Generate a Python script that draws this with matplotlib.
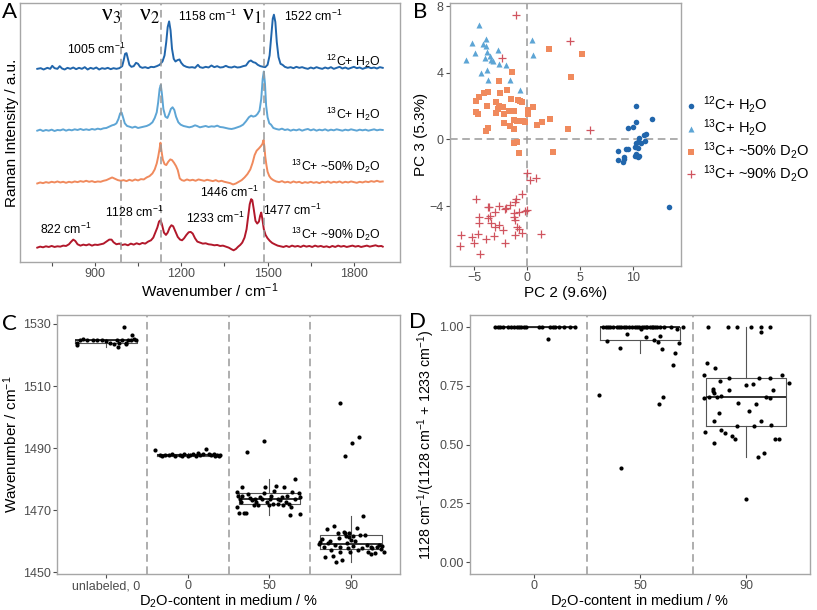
import numpy as np
import matplotlib
matplotlib.use("Agg")
import matplotlib.pyplot as plt

plt.rcParams["font.family"] = ["Liberation Sans", "DejaVu Sans"]
plt.rcParams["mathtext.fontset"] = "custom"
plt.rcParams["mathtext.rm"] = "Liberation Sans"
plt.rcParams["mathtext.it"] = "Liberation Sans:italic"
plt.rcParams["mathtext.bf"] = "Liberation Sans:bold"

# ---------------------------------------------------------------
# DATA
# ---------------------------------------------------------------
group_labels = [r"$^{12}$C+ H$_2$O", r"$^{13}$C+ H$_2$O",
                r"$^{13}$C+ ~50% D$_2$O", r"$^{13}$C+ ~90% D$_2$O"]
group_colors = ["#2166AC", "#5DA5D5", "#F08A5D", "#B2182B"]

# Panel A: spectra (wavenumber, intensity)
spec_12c_h2o = [
    (700, 0.00), (712, 0.02), (722, -0.02), (735, 0.03), (745, 0.00), (752, 0.09), (760, 0.02),
    (770, 0.00), (778, 0.08), (786, 0.01), (795, -0.02), (805, 0.03), (815, 0.00), (825, 0.04),
    (835, -0.01), (845, 0.03), (855, 0.00), (865, 0.05), (875, -0.02), (885, 0.03), (895, 0.00),
    (905, 0.04), (915, -0.02), (925, 0.02), (935, 0.00), (945, 0.03), (955, -0.01), (965, 0.02),
    (975, 0.00), (985, 0.02), (995, 0.08), (1000, 0.25), (1005, 0.45), (1010, 0.47), (1015, 0.30),
    (1020, 0.12), (1027, 0.06), (1035, 0.08), (1043, 0.18), (1050, 0.15), (1057, 0.06), (1065, 0.03),
    (1075, 0.05), (1085, 0.02), (1095, 0.06), (1105, 0.05), (1115, 0.08), (1125, 0.12), (1135, 0.22),
    (1142, 0.40), (1148, 0.80), (1153, 1.25), (1158, 1.42), (1163, 1.15), (1168, 0.60), (1174, 0.30),
    (1180, 0.22), (1187, 0.26), (1194, 0.28), (1200, 0.18), (1208, 0.10), (1218, 0.06), (1228, 0.04),
    (1238, 0.05), (1248, 0.03), (1258, 0.12), (1265, 0.05), (1275, 0.03), (1285, 0.06), (1295, 0.04),
    (1305, 0.10), (1315, 0.05), (1325, 0.08), (1335, 0.04), (1345, 0.05), (1355, 0.09), (1365, 0.05),
    (1375, 0.04), (1385, 0.07), (1395, 0.04), (1405, 0.05), (1415, 0.08), (1425, 0.10), (1435, 0.22),
    (1442, 0.25), (1450, 0.20), (1458, 0.18), (1466, 0.12), (1475, 0.08), (1485, 0.06), (1492, 0.05),
    (1500, 0.12), (1507, 0.40), (1513, 1.00), (1518, 1.50), (1522, 1.62), (1527, 1.40), (1532, 0.80),
    (1538, 0.35), (1545, 0.15), (1552, 0.12), (1560, 0.06), (1570, 0.03), (1580, 0.05), (1590, 0.02),
    (1600, 0.06), (1610, 0.03), (1620, 0.05), (1630, 0.02), (1640, 0.00), (1650, 0.04), (1660, 0.01),
    (1670, 0.05), (1680, 0.02), (1690, 0.00), (1700, 0.04), (1710, 0.01), (1720, 0.05), (1730, 0.00),
    (1740, 0.03), (1750, 0.06), (1760, 0.01), (1770, 0.04), (1780, 0.00), (1790, 0.03), (1800, 0.06),
    (1810, 0.02), (1820, 0.04), (1830, 0.00), (1840, 0.03), (1850, 0.05), (1860, 0.02), (1870, 0.04),
    (1880, 0.01), (1890, 0.05), (1900, 0.03)]

spec_13c_h2o = [
    (700, 0.00), (710, 0.03), (720, -0.01), (730, 0.02), (740, 0.00), (750, 0.03), (760, -0.01),
    (770, 0.02), (780, 0.01), (790, 0.04), (800, 0.00), (810, 0.03), (820, 0.01), (830, 0.04),
    (840, 0.02), (850, 0.05), (860, 0.02), (870, 0.04), (880, 0.02), (890, 0.05), (900, 0.03),
    (910, 0.06), (920, 0.04), (930, 0.07), (940, 0.08), (950, 0.12), (960, 0.16), (968, 0.18),
    (975, 0.22), (982, 0.35), (988, 0.52), (993, 0.54), (998, 0.40), (1004, 0.22), (1012, 0.14),
    (1020, 0.12), (1030, 0.09), (1040, 0.12), (1050, 0.08), (1060, 0.10), (1070, 0.12), (1080, 0.14),
    (1090, 0.18), (1100, 0.25), (1108, 0.38), (1115, 0.55), (1120, 0.85), (1125, 1.25), (1129, 1.37),
    (1133, 1.10), (1138, 0.65), (1145, 0.42), (1152, 0.38), (1158, 0.50), (1164, 0.65), (1170, 0.70),
    (1176, 0.62), (1182, 0.42), (1190, 0.25), (1198, 0.18), (1208, 0.14), (1218, 0.12), (1228, 0.10),
    (1238, 0.12), (1248, 0.16), (1255, 0.14), (1265, 0.10), (1275, 0.12), (1285, 0.14), (1295, 0.11),
    (1305, 0.13), (1315, 0.12), (1325, 0.15), (1335, 0.11), (1345, 0.10), (1355, 0.08), (1365, 0.06),
    (1375, 0.05), (1385, 0.07), (1395, 0.10), (1405, 0.13), (1415, 0.18), (1425, 0.28), (1435, 0.40),
    (1443, 0.45), (1450, 0.42), (1458, 0.44), (1465, 0.50), (1472, 0.60), (1478, 0.95), (1483, 1.55),
    (1487, 1.77), (1491, 1.40), (1495, 0.75), (1500, 0.40), (1506, 0.22), (1512, 0.18), (1520, 0.08),
    (1530, 0.05), (1540, 0.03), (1550, 0.06), (1560, 0.02), (1570, 0.04), (1580, 0.00), (1590, 0.03),
    (1600, 0.01), (1610, 0.04), (1620, 0.00), (1630, 0.03), (1640, 0.05), (1650, 0.01), (1660, 0.04),
    (1670, 0.00), (1680, 0.03), (1690, 0.01), (1700, 0.04), (1710, 0.00), (1720, 0.03), (1730, 0.01),
    (1740, 0.04), (1750, 0.02), (1760, 0.00), (1770, 0.03), (1780, 0.01), (1790, 0.04), (1800, 0.02),
    (1810, 0.00), (1820, 0.03), (1830, 0.01), (1840, 0.03), (1850, 0.00), (1860, 0.02), (1870, 0.04),
    (1880, 0.01), (1890, 0.03), (1900, 0.02)]

spec_13c_d2o50 = [
    (700, 0.00), (710, 0.03), (720, 0.01), (730, 0.04), (740, 0.02), (750, 0.05), (760, 0.03),
    (770, 0.06), (780, 0.03), (790, 0.05), (800, 0.02), (810, 0.05), (820, 0.03), (830, 0.06),
    (840, 0.04), (850, 0.07), (860, 0.05), (870, 0.08), (880, 0.05), (890, 0.07), (900, 0.04),
    (910, 0.06), (920, 0.05), (930, 0.08), (940, 0.10), (950, 0.14), (960, 0.18), (970, 0.14),
    (980, 0.10), (990, 0.08), (1000, 0.10), (1010, 0.07), (1020, 0.11), (1030, 0.08), (1040, 0.12),
    (1050, 0.09), (1060, 0.13), (1070, 0.12), (1080, 0.18), (1090, 0.22), (1100, 0.30), (1108, 0.42),
    (1115, 0.60), (1120, 0.80), (1125, 1.05), (1128, 1.22), (1131, 1.00), (1136, 0.72), (1142, 0.58),
    (1148, 0.55), (1155, 0.65), (1162, 0.72), (1168, 0.70), (1175, 0.62), (1182, 0.52), (1188, 0.40),
    (1195, 0.15), (1202, 0.10), (1210, 0.08), (1220, 0.12), (1230, 0.09), (1240, 0.11), (1250, 0.08),
    (1260, 0.12), (1270, 0.10), (1280, 0.08), (1290, 0.11), (1300, 0.09), (1310, 0.07), (1320, 0.10),
    (1330, 0.06), (1340, 0.08), (1350, 0.05), (1360, 0.03), (1370, 0.01), (1380, -0.03), (1390, 0.00),
    (1400, 0.05), (1410, 0.10), (1420, 0.18), (1430, 0.28), (1440, 0.42), (1448, 0.62), (1455, 0.85),
    (1462, 0.98), (1470, 1.05), (1477, 1.12), (1482, 1.18), (1486, 1.30), (1489, 1.10), (1492, 0.80),
    (1496, 0.55), (1500, 0.35), (1506, 0.22), (1512, 0.15), (1520, 0.10), (1530, 0.06), (1540, 0.04),
    (1550, 0.07), (1560, 0.03), (1570, 0.05), (1580, 0.02), (1590, 0.06), (1600, 0.03), (1610, 0.05),
    (1620, 0.01), (1630, 0.04), (1640, 0.02), (1650, 0.05), (1660, 0.02), (1670, 0.04), (1680, 0.01),
    (1690, 0.05), (1700, 0.03), (1710, 0.06), (1720, 0.02), (1730, 0.05), (1740, 0.03), (1750, 0.06),
    (1760, 0.02), (1770, 0.05), (1780, 0.03), (1790, 0.06), (1800, 0.04), (1810, 0.02), (1820, 0.05),
    (1830, 0.03), (1840, 0.06), (1850, 0.04), (1860, 0.07), (1870, 0.05), (1880, 0.08), (1890, 0.05),
    (1900, 0.06)]

spec_13c_d2o90 = [
    (700, 0.00), (710, 0.03), (720, 0.01), (730, 0.04), (740, 0.02), (750, 0.05), (760, 0.02),
    (770, 0.04), (780, 0.03), (790, 0.06), (800, 0.05), (810, 0.10), (818, 0.18), (825, 0.24),
    (832, 0.20), (840, 0.10), (850, 0.06), (860, 0.09), (870, 0.07), (880, 0.10), (890, 0.06),
    (900, 0.09), (910, 0.08), (920, 0.10), (930, 0.12), (940, 0.18), (950, 0.24), (958, 0.24),
    (965, 0.16), (975, 0.10), (985, 0.12), (995, 0.08), (1005, 0.10), (1015, 0.07), (1025, 0.12),
    (1035, 0.09), (1045, 0.13), (1055, 0.10), (1065, 0.14), (1075, 0.12), (1085, 0.18), (1095, 0.22),
    (1103, 0.30), (1110, 0.45), (1117, 0.60), (1123, 0.78), (1128, 0.82), (1133, 0.70), (1140, 0.45),
    (1147, 0.38), (1153, 0.45), (1160, 0.60), (1166, 0.67), (1172, 0.64), (1180, 0.48), (1188, 0.32),
    (1196, 0.24), (1203, 0.22), (1210, 0.28), (1218, 0.38), (1226, 0.46), (1233, 0.47), (1240, 0.42),
    (1248, 0.28), (1256, 0.18), (1265, 0.15), (1275, 0.12), (1285, 0.13), (1295, 0.10), (1305, 0.09),
    (1315, 0.07), (1325, 0.08), (1335, 0.05), (1345, 0.06), (1355, 0.03), (1365, 0.00), (1375, -0.05),
    (1382, -0.08), (1390, -0.04), (1398, 0.03), (1405, 0.08), (1412, 0.15), (1420, 0.30), (1427, 0.55),
    (1433, 0.95), (1438, 1.30), (1443, 1.45), (1447, 1.42), (1452, 1.15), (1458, 0.80), (1464, 0.72),
    (1470, 0.78), (1474, 0.95), (1478, 1.05), (1482, 0.85), (1487, 0.55), (1493, 0.38), (1500, 0.28),
    (1508, 0.20), (1516, 0.14), (1525, 0.10), (1535, 0.06), (1545, 0.04), (1555, 0.02), (1565, 0.05),
    (1575, 0.02), (1585, 0.06), (1595, 0.03), (1605, 0.05), (1615, 0.02), (1625, 0.06), (1635, 0.03),
    (1645, 0.05), (1655, 0.02), (1665, 0.06), (1675, 0.03), (1685, 0.05), (1695, 0.02), (1705, 0.04),
    (1715, 0.01), (1725, 0.05), (1735, 0.02), (1745, 0.06), (1755, 0.03), (1765, 0.05), (1775, 0.02),
    (1785, 0.04), (1795, 0.06), (1805, 0.03), (1815, 0.05), (1825, 0.02), (1835, 0.04), (1845, 0.06),
    (1855, 0.03), (1865, 0.05), (1875, 0.07), (1885, 0.04), (1895, 0.05), (1900, 0.03)]

spectra = [spec_12c_h2o, spec_13c_h2o, spec_13c_d2o50, spec_13c_d2o90]
spec_offsets = [5.35, 3.5, 1.92, 0.0]
band_positions = [990, 1130, 1486]
band_names = ["3", "2", "1"]

# Panel B: PCA scores (PC2, PC3)
pc_12c_h2o = [(10.25, 2.0), (11.8, 1.26), (10.25, 1.04), (9.53, 0.7), (10.0, 0.76), (11.2, 0.36),
              (10.97, 0.26), (10.56, 0.06), (10.25, -0.24), (10.4, -0.14), (10.7, -0.2), (11.1, -0.1),
              (8.6, -0.68), (9.3, -0.6), (9.53, -0.56), (10.2, -0.44), (10.4, -0.54), (9.1, -1.04),
              (8.6, -1.24), (9.0, -1.34), (9.1, -1.2), (10.25, -0.9), (10.4, -1.04), (10.5, -0.98),
              (10.2, -1.0), (13.4, -4.08)]
pc_13c_h2o = [(-4.6, 6.9), (-5.2, 5.82), (-3.9, 6.06), (-4.15, 5.76), (-3.9, 5.62), (-4.9, 5.2),
              (-2.8, 5.36), (-3.8, 5.26), (-5.75, 4.8), (-3.97, 4.92), (-3.5, 5.0), (-3.4, 4.8),
              (-3.25, 4.7), (-2.7, 4.56), (-2.0, 4.46), (-4.35, 4.0), (-3.8, 4.16), (-3.7, 3.56),
              (-1.6, 3.56), (-0.7, 2.96), (0.4, 5.96), (0.5, 5.06)]
pc_13c_d2o50 = [(2.06, 5.42), (5.15, 5.12), (4.16, 3.76), (-1.47, 4.06), (-2.72, 3.5), (-3.75, 2.86),
                (-4.1, 2.8), (-4.6, 2.56), (-4.8, 2.32), (-2.56, 2.8), (-1.9, 2.96), (-1.53, 2.42),
                (-0.9, 2.36), (-0.47, 2.26), (-0.7, 2.3), (0.56, 1.96), (-3.8, 2.0), (-3.0, 2.24),
                (-2.72, 2.0), (-2.3, 1.96), (-4.8, 1.66), (-4.66, 1.52), (-2.97, 1.6), (-2.8, 1.86),
                (-2.25, 1.56), (-1.72, 1.7), (-1.3, 1.7), (0.03, 1.76), (0.1, 1.56), (-2.25, 1.02),
                (-1.3, 1.16), (-1.0, 1.1), (-0.4, 1.12), (-0.2, 1.04), (-3.7, 0.72), (-3.9, 0.52),
                (-1.6, 0.82), (-1.25, 0.66), (0.88, 0.88), (1.34, 1.04), (2.1, 1.26), (3.85, 0.66),
                (-1.25, -0.24), (-1.0, -0.14), (-0.75, -0.8), (2.38, -0.78)]
pc_13c_d2o90 = [(-1.06, 7.5), (4.06, 5.92), (-2.4, 4.92), (5.88, 0.6), (-0.06, -2.0), (0.25, -2.44),
                (0.8, -2.34), (-0.47, -3.28), (-1.06, -3.58), (-1.16, -3.74), (-1.6, -3.94), (0.0, -4.24),
                (-0.22, -4.3), (-0.75, -4.38), (-1.3, -4.44), (-4.84, -3.58), (-3.72, -4.08), (-3.6, -4.08),
                (-2.72, -3.98), (-2.1, -4.18), (-2.0, -4.14), (-3.03, -4.38), (-3.5, -4.6), (-3.72, -4.74),
                (-4.6, -4.64), (-4.6, -5.0), (-3.4, -5.0), (-3.03, -5.24), (-2.3, -5.44), (-2.72, -5.14),
                (-1.3, -4.64), (-1.2, -4.84), (-0.94, -5.24), (-0.78, -5.4), (-0.47, -5.64), (-1.16, -5.74),
                (-6.3, -5.74), (-6.4, -6.38), (-5.2, -5.88), (-5.0, -6.2), (-4.7, -5.68), (-3.9, -5.98),
                (-3.12, -5.8), (-2.1, -6.24), (-4.5, -6.9), (1.25, -5.7)]
pc_sets = [pc_12c_h2o, pc_13c_h2o, pc_13c_d2o50, pc_13c_d2o90]
pc_markers = ["o", "^", "s", "+"]

# Panel C: nu1 band position per cell (jitter offset, wavenumber)
c_categories = ["unlabeled, 0", "0", "50", "90"]
c_unlabeled = [(-0.36, 1523.1), (-0.35, 1524.0), (-0.32, 1524.9), (-0.28, 1525.1), (-0.23, 1524.7),
               (-0.16, 1524.8), (-0.11, 1525.0), (-0.05, 1524.7), (0.0, 1524.4), (0.05, 1524.0),
               (0.10, 1523.7), (0.13, 1524.7), (0.15, 1522.7), (0.16, 1524.0), (0.19, 1524.9),
               (0.22, 1529.1), (0.24, 1523.8), (0.27, 1524.9), (0.30, 1524.7), (0.32, 1526.5),
               (0.34, 1525.1), (0.37, 1524.7), (0.25, 1523.5)]
c_d2o0 = [(-0.40, 1489.5), (-0.34, 1487.9), (-0.32, 1487.3), (-0.28, 1487.9), (-0.23, 1487.8),
          (-0.19, 1488.0), (-0.15, 1487.5), (-0.10, 1487.9), (-0.07, 1487.6), (-0.04, 1488.0),
          (0.0, 1487.4), (0.03, 1487.8), (0.06, 1488.1), (0.10, 1487.6), (0.13, 1488.4),
          (0.15, 1487.9), (0.19, 1488.1), (0.22, 1489.7), (0.26, 1488.0), (0.29, 1487.8),
          (0.32, 1488.1), (0.34, 1487.5), (0.36, 1487.8), (0.38, 1487.3), (0.40, 1487.9)]
c_d2o50 = [(-0.40, 1471.0), (-0.39, 1475.8), (-0.38, 1474.4), (-0.36, 1473.7), (-0.35, 1472.6),
           (-0.34, 1474.7), (-0.33, 1477.4), (-0.37, 1469.1), (-0.31, 1469.1), (-0.28, 1469.1),
           (-0.27, 1488.8), (-0.26, 1475.3), (-0.24, 1473.9), (-0.21, 1473.1), (-0.19, 1471.5),
           (-0.18, 1473.7), (-0.16, 1472.6), (-0.14, 1471.5), (-0.12, 1474.2), (-0.09, 1473.7),
           (-0.07, 1492.3), (-0.06, 1475.5), (-0.05, 1477.4), (-0.03, 1472.6), (-0.01, 1471.5),
           (0.01, 1473.7), (0.02, 1474.5), (0.04, 1472.1), (0.06, 1476.3), (0.08, 1477.7),
           (0.10, 1473.7), (0.11, 1472.1), (0.13, 1473.1), (0.15, 1474.2), (0.17, 1471.5),
           (0.18, 1477.4), (0.20, 1472.6), (0.22, 1474.7), (0.24, 1472.1), (0.25, 1468.3),
           (0.26, 1471.0), (0.28, 1475.8), (0.31, 1480.1), (0.32, 1473.7), (0.36, 1475.5),
           (0.37, 1474.2), (0.38, 1468.6)]
c_d2o90 = [(-0.39, 1459.0), (-0.38, 1459.8), (-0.36, 1460.7), (-0.33, 1458.2), (-0.32, 1455.0),
           (-0.30, 1463.8), (-0.28, 1459.5), (-0.26, 1460.0), (-0.24, 1457.1), (-0.22, 1455.3),
           (-0.21, 1464.8), (-0.19, 1458.7), (-0.18, 1453.2), (-0.16, 1462.5), (-0.15, 1460.9),
           (-0.14, 1456.6), (-0.13, 1458.2), (-0.11, 1454.0), (-0.13, 1504.5), (-0.09, 1463.0),
           (-0.07, 1462.5), (-0.06, 1461.7), (-0.05, 1459.3), (-0.04, 1457.9), (-0.03, 1461.4),
           (-0.02, 1462.7), (-0.01, 1456.6), (0.00, 1460.3), (0.02, 1458.5), (0.03, 1461.7),
           (0.05, 1460.0), (0.07, 1464.1), (0.09, 1457.1), (0.11, 1461.9), (0.13, 1457.7),
           (0.15, 1468.1), (0.17, 1461.9), (0.19, 1458.7), (0.21, 1456.4), (0.24, 1458.2),
           (0.25, 1455.8), (0.26, 1457.7), (0.29, 1456.1), (0.32, 1458.2), (0.34, 1458.7),
           (0.37, 1457.5), (0.38, 1458.5), (0.40, 1456.6), (0.10, 1493.5), (0.01, 1491.5),
           (-0.07, 1487.3)]
c_groups = [c_unlabeled, c_d2o0, c_d2o50, c_d2o90]

# Panel D: band ratio per cell (jitter offset, ratio)
d_categories = ["0", "50", "90"]
d_d2o0 = [(-0.36, 1.0), (-0.34, 1.0), (-0.32, 1.0), (-0.29, 1.0), (-0.24, 1.0), (-0.21, 1.0),
          (-0.19, 1.0), (-0.16, 1.0), (-0.14, 1.0), (-0.12, 1.0), (-0.09, 1.0), (-0.07, 1.0),
          (0.05, 1.0), (0.08, 1.0), (0.15, 1.0), (0.18, 1.0), (0.20, 1.0), (0.24, 1.0),
          (0.28, 1.0), (0.34, 1.0), (0.39, 1.0), (0.13, 0.948)]
d_d2o50 = [(-0.35, 1.0), (-0.32, 1.0), (-0.30, 1.0), (-0.28, 1.0), (-0.25, 1.0), (-0.22, 1.0),
           (-0.20, 1.0), (-0.18, 1.0), (-0.15, 1.0), (-0.13, 1.0), (-0.10, 1.0), (-0.08, 1.0),
           (-0.05, 1.0), (-0.03, 1.0), (-0.01, 1.0), (0.02, 1.0), (0.04, 1.0), (0.06, 1.0),
           (0.09, 1.0), (0.12, 1.0), (0.14, 1.0), (0.16, 1.0), (0.19, 1.0), (0.23, 1.0),
           (0.29, 1.0), (0.40, 1.0), (0.07, 1.0), (0.11, 1.0),
           (-0.31, 0.941), (-0.12, 0.969), (-0.19, 0.909), (0.01, 0.989), (0.06, 0.955),
           (0.13, 0.944), (0.17, 0.934), (0.19, 0.961), (0.21, 0.906), (0.33, 0.890),
           (0.31, 0.836), (0.35, 0.989), (0.37, 0.933), (-0.39, 0.711), (-0.18, 0.402),
           (0.18, 0.670), (0.22, 0.701)]
d_d2o90 = [(-0.36, 1.0), (-0.17, 1.0), (-0.09, 1.0), (0.04, 1.0), (0.14, 1.0), (0.22, 1.0),
           (0.14, 0.979), (-0.37, 0.848), (-0.29, 0.824), (-0.40, 0.796), (-0.40, 0.697),
           (-0.35, 0.702), (-0.31, 0.736), (-0.31, 0.726), (-0.30, 0.719), (-0.28, 0.702),
           (-0.25, 0.771), (-0.24, 0.705), (-0.26, 0.635), (-0.30, 0.600), (-0.16, 0.781),
           (-0.16, 0.733), (-0.08, 0.677), (0.00, 0.753), (0.06, 0.758), (0.03, 0.642),
           (0.09, 0.670), (0.12, 0.784), (0.22, 0.784), (0.25, 0.730), (0.19, 0.702),
           (0.22, 0.697), (0.14, 0.600), (0.23, 0.581), (0.34, 0.796), (0.40, 0.761),
           (0.27, 0.522), (0.31, 0.525), (0.17, 0.462), (0.11, 0.445), (0.00, 0.270),
           (-0.24, 0.560), (-0.20, 0.548), (-0.13, 0.534), (-0.11, 0.525), (-0.09, 0.579),
           (-0.39, 0.555), (-0.30, 0.508), (0.07, 0.579)]
d_groups = [d_d2o0, d_d2o50, d_d2o90]

# ---------------------------------------------------------------
# FIGURE
# ---------------------------------------------------------------
W, H = 817, 610
fig = plt.figure(figsize=(W / 100, H / 100), dpi=100)

TICK_FS = 9
LAB_FS = 11


def px_axes(left, top, right, bottom):
    return fig.add_axes([left / W, 1 - bottom / H, (right - left) / W, (bottom - top) / H])


def frame(ax):
    for s in ax.spines.values():
        s.set_color("#A6A6A6")
        s.set_linewidth(1.0)
    ax.tick_params(colors="#4D4D4D", labelsize=TICK_FS, length=3, width=0.8, pad=1.5)


tick_col = "#4D4D4D"
dash_col = "#999999"
dash = (0, (5, 3))

# ---------------- A ----------------
axA = px_axes(20, 3, 400, 262)
frame(axA)
for pairs, off, col in zip(spectra, spec_offsets, group_colors):
    arr = np.array(pairs)
    axA.plot(arr[:, 0], arr[:, 1] + off, color=col, lw=1.4)
for xb in band_positions:
    axA.axvline(xb, color=dash_col, ls=dash, lw=1.1)
axA.set_xlim(640, 1960)
axA.set_ylim(-0.43, 7.32)
axA.set_xticks([900, 1200, 1500, 1800])
axA.set_xticks([750, 1050, 1350, 1650], minor=True)
axA.tick_params(axis="x", which="minor", length=3, color=tick_col, width=0.8)
axA.set_yticks([])
axA.set_xlabel(r"Wavenumber / cm$^{-1}$", fontsize=LAB_FS, labelpad=1)
axA.set_ylabel("Raman Intensity / a.u.", fontsize=LAB_FS, labelpad=1)

for nm, xt in zip(band_names, [955, 1090, 1446]):
    axA.text(xt, 6.95, "\u03bd$_{" + nm + "}$", fontsize=17, family=["Liberation Serif", "DejaVu Serif"],
             math_fontfamily="stix", ha="center", va="center")

ann = [(905, 5.92, "1005"), (1292, 6.92, "1158"), (1658, 6.92, "1522"), (1368, 1.64, "1446"),
       (1038, 1.05, "1128"), (1317, 0.87, "1233"), (1584, 1.10, "1477"), (799, 0.54, "822")]
for xt, yt, s in ann:
    axA.text(xt, yt, s + r" cm$^{-1}$", fontsize=8.8, ha="center", va="center")
for lab, yt in zip(group_labels, [5.57, 3.99, 2.42, 0.39]):
    axA.text(1891, yt, lab, fontsize=8.8, ha="right", va="center")

# ---------------- B ----------------
axB = px_axes(450, 3, 681, 266)
frame(axB)
axB.axhline(0, color=dash_col, ls=dash, lw=1.1, zorder=0)
axB.axvline(0, color=dash_col, ls=dash, lw=1.1, zorder=0)
handles = []
for pts, mk, col, lab in zip(pc_sets, pc_markers, group_colors, group_labels):
    arr = np.array(pts)
    if mk == "+":
        h = axB.scatter(arr[:, 0], arr[:, 1], marker=mk, s=34, color="#D0545F", linewidths=0.9, label=lab)
    else:
        h = axB.scatter(arr[:, 0], arr[:, 1], marker=mk, s=16 if mk == "o" else 19, color=col,
                        linewidths=0, label=lab)
    handles.append(h)
axB.set_xlim(-7.3, 14.5)
axB.set_ylim(-7.6, 8.2)
axB.set_xticks([-5, 0, 5, 10])
axB.set_yticks([-4, 0, 4, 8])
axB.set_xlabel("PC 2 (9.6%)", fontsize=LAB_FS, labelpad=1)
axB.set_ylabel("PC 3 (5.3%)", fontsize=LAB_FS, labelpad=1)
fig.legend(handles=handles, labels=group_labels, loc="center left",
           bbox_to_anchor=(684 / W, 1 - 139 / H), frameon=False, fontsize=10.5,
           handlelength=1.0, handletextpad=0.3, labelspacing=0.12, borderaxespad=0, borderpad=0)

# ---------------- C ----------------
axC = px_axes(57, 315, 400, 574)
frame(axC)
box_data = [np.array(g)[:, 1] for g in c_groups]
axC.boxplot(box_data, positions=range(1, len(c_groups) + 1), widths=0.75, showfliers=False,
            boxprops=dict(color="#555555", lw=0.8), whiskerprops=dict(color="#555555", lw=0.8),
            capprops=dict(lw=0), medianprops=dict(color="#222222", lw=1.3))
for i, g in enumerate(c_groups):
    arr = np.array(g)
    axC.scatter(i + 1 + arr[:, 0], arr[:, 1], s=9, color="black", linewidths=0, zorder=3)
for xb in [1.5, 2.5, 3.5]:
    axC.axvline(xb, color=dash_col, ls=dash, lw=1.1)
axC.set_xlim(0.4, 4.6)
axC.set_ylim(1449.4, 1532.9)
axC.set_xticks(range(1, len(c_categories) + 1))
axC.set_xticklabels(c_categories)
axC.set_yticks([1450, 1470, 1490, 1510, 1530])
axC.set_xlabel(r"D$_2$O-content in medium / %", fontsize=10.5, labelpad=0)
axC.set_ylabel(r"Wavenumber / cm$^{-1}$", fontsize=LAB_FS, labelpad=2)

# ---------------- D ----------------
axD = px_axes(470, 315, 810, 574)
frame(axD)
box_data = [np.array(g)[:, 1] for g in d_groups]
axD.boxplot(box_data, positions=range(1, len(d_groups) + 1), widths=0.75, showfliers=False,
            boxprops=dict(color="#555555", lw=0.8), whiskerprops=dict(color="#555555", lw=0.8),
            capprops=dict(lw=0), medianprops=dict(color="#222222", lw=1.3))
for i, g in enumerate(d_groups):
    arr = np.array(g)
    axD.scatter(i + 1 + arr[:, 0], arr[:, 1], s=9, color="black", linewidths=0, zorder=3)
for xb in [1.5, 2.5]:
    axD.axvline(xb, color=dash_col, ls=dash, lw=1.1)
axD.set_xlim(0.4, 3.6)
axD.set_ylim(-0.05, 1.05)
axD.set_xticks(range(1, len(d_categories) + 1))
axD.set_xticklabels(d_categories)
axD.set_yticks([0, 0.25, 0.5, 0.75, 1.0])
axD.set_yticklabels(["0.00", "0.25", "0.50", "0.75", "1.00"])
axD.set_xlabel(r"D$_2$O-content in medium / %", fontsize=10.5, labelpad=0)
axD.set_ylabel(r"1128 cm$^{-1}$/(1128 cm$^{-1}$ + 1233 cm$^{-1}$)", fontsize=10.3, labelpad=2)

# panel letters
for x, y, s in [(2, 2, "A"), (413, 2, "B"), (2, 314, "C"), (409, 312, "D")]:
    fig.text(x / W, 1 - y / H, s, fontsize=16, family=["Lato", "DejaVu Sans"], va="top", ha="left")

fig.savefig("out.png", dpi=100)
